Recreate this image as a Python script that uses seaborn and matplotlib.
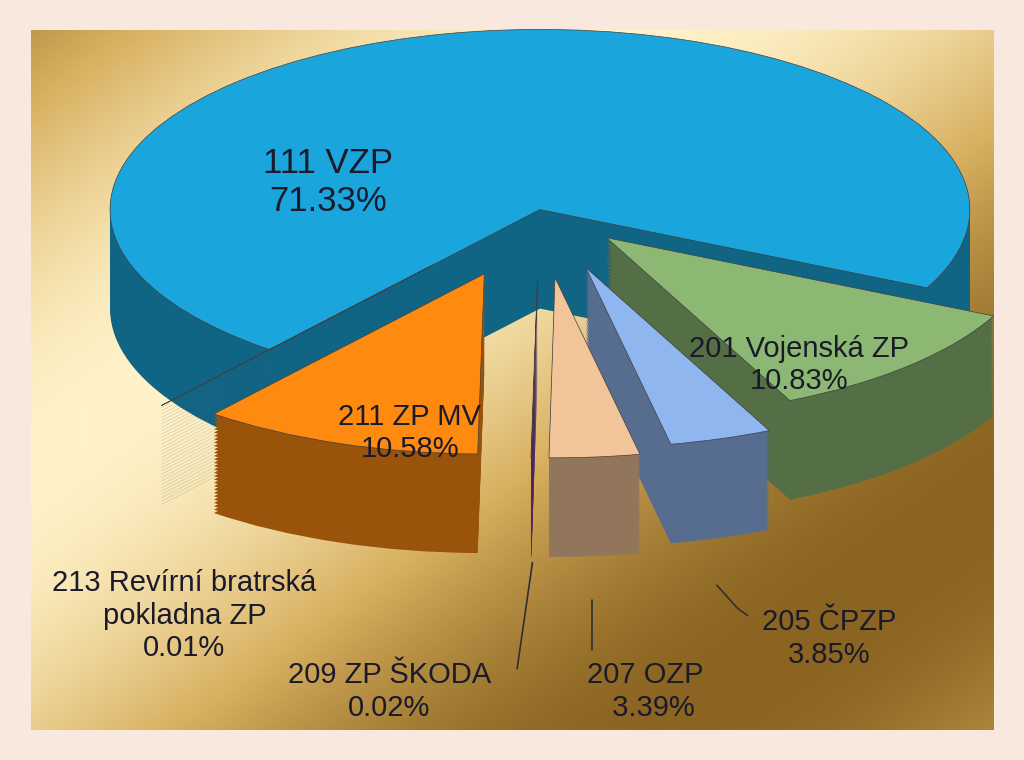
import numpy as np
import matplotlib.pyplot as plt
import matplotlib.colors as mcolors
import seaborn as sns

sns.set_theme(style="white")
plt.rcParams['font.family'] = ['Liberation Sans', 'DejaVu Sans']

# data
names = ["111 VZP", "201 Vojenská ZP", "205 ČPZP", "207 OZP", "209 ZP ŠKODA",
         "211 ZP MV", "213 Revírní bratrská\npokladna ZP"]
shares = [71.33, 10.83, 3.85, 3.39, 0.02, 10.58, 0.01]
colors = ["#1aa6dc", "#8cb873", "#8fb6ee", "#f2c49a", "#8040a0", "#ff8a10", "#8a98b0"]
explode = [0.0, 0.22, 0.34, 0.38, 0.38, 0.38, 0.4]

fig = plt.figure(figsize=(10.24, 7.6), dpi=100)
fig.patch.set_facecolor("#f9e8de")

# gold gradient background panel
bg = fig.add_axes([0.03, 0.04, 0.94, 0.92])
xx, yy = np.meshgrid(np.linspace(0, 1, 300), np.linspace(0, 1, 300))
g = np.clip(0.5 + 0.5 * np.sin(3.0 * (xx + yy) - 0.3), 0, 1)
cmap = mcolors.LinearSegmentedColormap.from_list("gold", ["#8a6420", "#d8b060", "#fff2c8"])
bg.imshow(g, cmap=cmap, aspect="auto", extent=[0, 1, 0, 1])
bg.axis("off")

ax = fig.add_axes([0.0, 0.274, 1.0, 0.711])
ax.set_facecolor("none")

start = 231

def darker(c, f):
    r, g_, b = mcolors.to_rgb(c)
    return (r * f, g_ * f, b * f)

# extrusion layers
depth = 0.55
for d in np.linspace(depth, 0.01, 30):
    ax.pie(shares, colors=[darker(c, 0.6) for c in colors], explode=explode,
           startangle=start, counterclock=False, center=(0, -d), radius=1.0,
           wedgeprops=dict(linewidth=0))
ax.pie(shares, colors=colors, explode=explode, startangle=start, counterclock=False,
       radius=1.0, wedgeprops=dict(linewidth=0.5, edgecolor="#404040"))
ax.set_aspect("auto")
ax.set_xlim(-1.256, 1.126)
ax.set_ylim(-1.9, 1.1)

tk = dict(fontsize=21, color="#1a1a2a", ha="center", va="center")
fig.text(0.32, 0.76, f"{names[0]}\n{shares[0]:.2f}%", fontsize=25, color="#1a1a2a", ha="center", va="center")
fig.text(0.78, 0.52, f"{names[1]}\n{shares[1]:.2f}%", **tk)
fig.text(0.40, 0.43, f"{names[5]}\n{shares[5]:.2f}%", **tk)
fig.text(0.81, 0.16, f"{names[2]}\n{shares[2]:.2f}%", **tk)
fig.text(0.63, 0.09, f"{names[3]}\n  {shares[3]:.2f}%", **tk)
fig.text(0.38, 0.09, f"{names[4]}\n{shares[4]:.2f}%", **tk)
fig.text(0.18, 0.19, f"{names[6]}\n{shares[6]:.2f}%", **tk)

lk = dict(color="#303030", lw=1.2)
fig.add_artist(plt.Line2D([0.70, 0.72, 0.73], [0.23, 0.20, 0.19], **lk))
fig.add_artist(plt.Line2D([0.578, 0.578], [0.21, 0.145], **lk))
fig.add_artist(plt.Line2D([0.52, 0.505], [0.26, 0.12], **lk))

fig.savefig("out.png", dpi=100, facecolor=fig.get_facecolor())
